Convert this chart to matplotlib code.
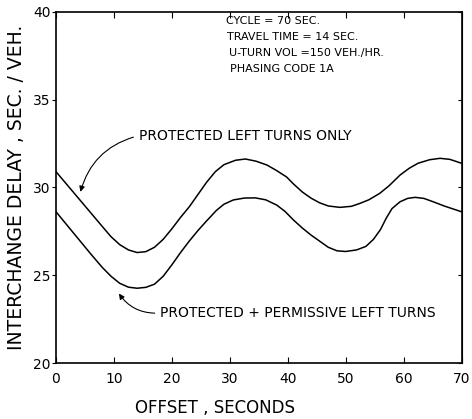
import matplotlib
matplotlib.use('Agg')
import matplotlib.pyplot as plt

# offset (sec) and delay (sec/veh)
x_only = [0, 2, 4, 6, 8, 9.5, 11, 12.5, 14, 15.5, 17, 18.5, 20, 21.5, 23, 24.5, 26,
          27.5, 29, 31, 32.7, 34.5, 36.4, 38, 39.8, 41, 42.5, 44, 45.5, 47, 49, 51,
          52.5, 54, 55.9, 57.5, 59.4, 61, 62.5, 64.5, 66.3, 68, 70]
y_only = [30.9, 30.12, 29.34, 28.56, 27.78, 27.2, 26.75, 26.45, 26.3, 26.35, 26.6,
          27.05, 27.65, 28.3, 28.9, 29.6, 30.3, 30.9, 31.3, 31.55, 31.62, 31.5, 31.28,
          30.98, 30.6, 30.2, 29.75, 29.4, 29.13, 28.95, 28.87, 28.93, 29.1, 29.3, 29.67,
          30.1, 30.71, 31.1, 31.38, 31.58, 31.66, 31.6, 31.38]

x_perm = [0, 2, 4, 6, 8, 9.5, 11, 12.5, 14, 15.5, 17, 18.5, 20, 21.5, 23, 24.5, 26,
          27.7, 29, 30.6, 32.5, 34.4, 36.2, 38.1, 39.5, 41, 42.5, 44, 45.5, 47, 48.5,
          50, 51.9, 53.5, 54.8, 56, 57, 58, 59.4, 60.7, 62, 63.5, 65.1, 67, 70]
y_perm = [28.62, 27.82, 27.02, 26.22, 25.45, 24.95, 24.55, 24.33, 24.27, 24.32, 24.5,
          24.95, 25.6, 26.3, 26.95, 27.55, 28.1, 28.7, 29.05, 29.29, 29.4, 29.41, 29.3,
          29.0, 28.65, 28.15, 27.7, 27.3, 26.95, 26.6, 26.4, 26.36, 26.45, 26.65, 27.05,
          27.6, 28.25, 28.8, 29.19, 29.38, 29.44, 29.38, 29.19, 28.95, 28.62]

xticks = [0, 10, 20, 30, 40, 50, 60, 70]
yticks = [20, 25, 30, 35, 40]

notes = ['CYCLE = 70 SEC.', 'TRAVEL TIME = 14 SEC.', 'U-TURN VOL =150 VEH./HR.',
         'PHASING CODE 1A']

fig = plt.figure(figsize=(4.72, 4.19), dpi=100)
ax = fig.add_axes([56 / 472, 1 - 363.3 / 419, (461.5 - 56) / 472, (363.3 - 11.7) / 419])

ax.plot(x_only, y_only, color='black', lw=1.1, solid_joinstyle='round')
ax.plot(x_perm, y_perm, color='black', lw=1.1, solid_joinstyle='round')

ax.set_xlim(0, 70)
ax.set_ylim(20, 40)
ax.set_xticks(xticks)
ax.set_yticks(yticks)
ax.tick_params(axis='x', direction='in', top=True, length=4, labelsize=10, pad=6)
ax.tick_params(axis='y', direction='out', length=3, labelsize=10, pad=1)
for s in ax.spines.values():
    s.set_linewidth(1.2)

right = ax.secondary_yaxis('right')
right.set_yticks(yticks)
right.tick_params(direction='in', length=3, labelright=False)

# notes in the top right corner
for i, t in enumerate(notes):
    ax.text(29.4 + 0.2 * i, 39.45 - 0.9 * i, t, fontsize=8, va='center', ha='left')

ax.annotate('PROTECTED LEFT TURNS ONLY', xy=(4.1, 29.6), xytext=(14.3, 32.95),
            fontsize=10, va='center', ha='left',
            arrowprops=dict(arrowstyle='-|>', color='black', lw=0.8, relpos=(0, 0.5),
                            connectionstyle='arc3,rad=0.3', mutation_scale=8))
ax.annotate('PROTECTED + PERMISSIVE LEFT TURNS', xy=(10.6, 24.1), xytext=(18.0, 22.86),
            fontsize=10, va='center', ha='left',
            arrowprops=dict(arrowstyle='-|>', color='black', lw=0.8, relpos=(0, 0.5),
                            connectionstyle='arc3,rad=-0.3', mutation_scale=8))

ax.set_ylabel('INTERCHANGE DELAY , SEC. / VEH.', fontsize=13.5, labelpad=5)
fig.text(215 / 472, 1 - 408 / 419, 'OFFSET , SECONDS', fontsize=12, ha='center', va='center')

fig.savefig('out.png', dpi=100)
